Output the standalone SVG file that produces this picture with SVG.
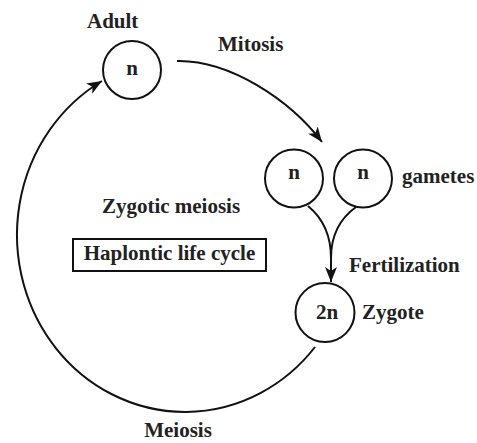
<svg xmlns="http://www.w3.org/2000/svg" width="477" height="443" viewBox="0 0 477 443">
<defs>
<style>
text{font-family:"Liberation Serif","Times New Roman",serif;font-weight:bold;font-size:21px;fill:#222}
.c{fill:none;stroke:#111;stroke-width:2}
.l{fill:none;stroke:#111;stroke-width:2}
</style>
<marker id="ah" markerWidth="16" markerHeight="12" refX="15" refY="6" orient="auto" markerUnits="userSpaceOnUse">
<path d="M0,0 L15,6 L0,12 L4,6 Z" fill="#111"/>
</marker>
</defs>
<rect width="477" height="443" fill="#fff"/>
<g id="adult">
<circle class="c" cx="132" cy="70" r="29"/>
<text x="132" y="75" text-anchor="middle">n</text>
<text x="87" y="28">Adult</text>
</g>
<g id="gametes">
<circle class="c" cx="294" cy="178.5" r="29"/>
<text x="294" y="179" text-anchor="middle">n</text>
<circle class="c" cx="363" cy="178.5" r="29"/>
<text x="363" y="179" text-anchor="middle">n</text>
<text x="402" y="183">gametes</text>
</g>
<g id="zygote">
<circle class="c" cx="325" cy="312.5" r="29.5"/>
<text x="327" y="319" text-anchor="middle">2n</text>
<text x="362" y="319">Zygote</text>
</g>
<g id="label-box">
<rect x="73" y="239" width="193" height="32" fill="none" stroke="#111" stroke-width="2"/>
<text x="169.5" y="260" text-anchor="middle">Haplontic life cycle</text>
</g>
<g id="labels">
<text x="218" y="51">Mitosis</text>
<text x="349" y="272">Fertilization</text>
<text x="171" y="213" text-anchor="middle">Zygotic meiosis</text>
<text x="178" y="437" text-anchor="middle">Meiosis</text>
</g>
<g id="connectors">
<path class="l" d="M177,61 C230,60 290,100 322,142" marker-end="url(#ah)"/>
<path class="l" d="M308,206 Q331,225 331,258"/>
<path class="l" d="M356,207 Q331,225 331,258"/>
<path class="l" d="M331,255 L331,282" marker-end="url(#ah)"/>
<path class="l" d="M315,347 A168,177 0 1 1 102,81" marker-end="url(#ah)"/>
</g>
</svg>
